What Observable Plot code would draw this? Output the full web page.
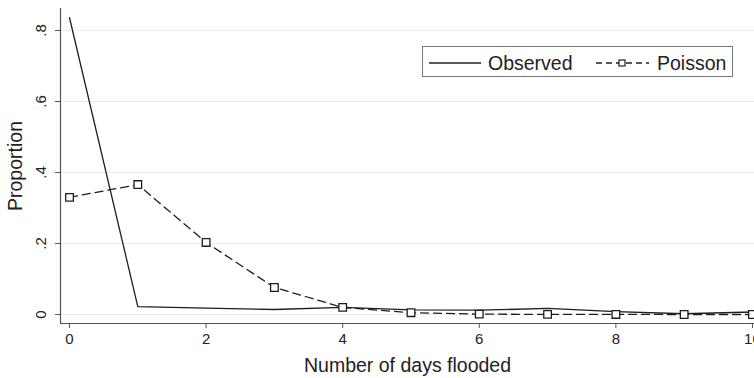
<!DOCTYPE html>
<html><head><meta charset="utf-8">
<script src="https://cdn.jsdelivr.net/npm/d3@7"></script>
<script src="https://cdn.jsdelivr.net/npm/@observablehq/plot@0.6"></script>
<style>
body{margin:0;background:#fff;font-family:"Liberation Sans",Arial,sans-serif;}
#wrap{position:relative;width:754px;height:378px;}
#legend{position:absolute;left:422px;top:46px;width:311px;height:31px;border:1px solid #777;background:#fff;box-sizing:border-box;}
</style></head>
<body><div id="wrap"><div id="chart"></div>
<div id="legend"><svg width="311" height="31" style="display:block">
<line x1="6" x2="58" y1="16" y2="16" stroke="#222" stroke-width="1.3"/>
<text x="65" y="23" font-size="19.5" fill="#222" font-family="Liberation Sans, Arial, sans-serif">Observed</text>
<line x1="173" x2="226" y1="16" y2="16" stroke="#222" stroke-width="1.3" stroke-dasharray="6,4"/>
<rect x="196" y="13" width="6" height="6" fill="#fff" stroke="#222" stroke-width="1.2"/>
<text x="234" y="23" font-size="19.5" fill="#222" font-family="Liberation Sans, Arial, sans-serif">Poisson</text>
</svg></div></div>
<script>
const days = [0,1,2,3,4,5,6,7,8,9,10];
const observed = [0.836,0.022,0.018,0.014,0.020,0.013,0.012,0.017,0.008,0.002,0.007];
const poisson = [0.330,0.366,0.203,0.076,0.020,0.005,0.001,0.0003,0.0001,0.0,0.0];
const xTicks = [0,2,4,6,8,10];
const yTicks = [0,0.2,0.4,0.6,0.8];
const yTickLabels = ["0",".2",".4",".6",".8"];

const obsData = days.map((d,i)=>({x:d,y:observed[i]}));
const poiData = days.map((d,i)=>({x:d,y:poisson[i]}));
const yLab = yTicks.map((d,i)=>({y:d,t:yTickLabels[i]}));
const xmin=-0.132, xmax=10.03, ymin=-0.0254, ymax=0.862;

const chart = Plot.plot({
  width:754, height:378,
  marginLeft:60, marginRight:0, marginTop:8, marginBottom:55,
  style:{fontFamily:"Liberation Sans, Arial, sans-serif", background:"#fff"},
  x:{type:"linear",domain:[xmin,xmax]},
  y:{type:"linear",domain:[ymin,ymax]},
  marks:[
    Plot.gridY(yTicks,{stroke:"#ececec",strokeOpacity:1,strokeWidth:1}),
    Plot.ruleX([xmin],{stroke:"#555",strokeWidth:1.2}),
    Plot.ruleY([ymin],{stroke:"#555",strokeWidth:1.2}),
    Plot.axisX(xTicks,{tickSize:5,tickPadding:5,fontSize:15,fill:"#222",stroke:"#555",label:null,tickFormat:d=>String(d)}),
    Plot.axisY(yTicks,{tickSize:5,stroke:"#555",label:null,tickFormat:()=>""}),
    Plot.text(yLab,{x:xmin,y:"y",text:"t",rotate:-90,dx:-19,textAnchor:"middle",lineAnchor:"middle",fontSize:15,fill:"#222"}),
    Plot.text(["Number of days flooded"],{frameAnchor:"bottom",dy:48,fontSize:19.5,fill:"#222"}),
    Plot.text(["Proportion"],{frameAnchor:"left",dx:-45,rotate:-90,textAnchor:"middle",fontSize:19.5,fill:"#222"}),
    Plot.line(obsData,{x:"x",y:"y",stroke:"#1e1e1e",strokeWidth:1.3}),
    Plot.line(poiData,{x:"x",y:"y",stroke:"#1e1e1e",strokeWidth:1.3,strokeDasharray:"8,5"}),
    Plot.dot(poiData,{x:"x",y:"y",symbol:"square",r:4.3,stroke:"#1e1e1e",fill:"#fff",strokeWidth:1.3})
  ]
});
document.getElementById("chart").appendChild(chart);
</script></body></html>
